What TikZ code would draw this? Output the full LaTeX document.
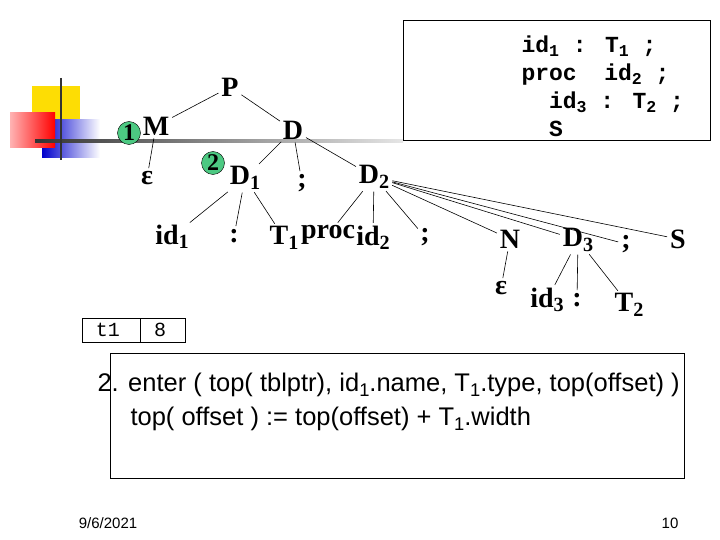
\documentclass[tikz,border=0pt]{standalone}
\usepackage{fontspec}
\setmainfont{Liberation Serif}
\newfontfamily\monof{Liberation Mono}
\newfontfamily\sansf{Liberation Sans}
\newcommand{\sbs}[1]{\raisebox{-0.35ex}{\scalebox{0.72}{#1}}}
\begin{document}
\begin{tikzpicture}[x=1pt,y=-1pt,
 tn/.style={font=\fontsize{28}{29}\selectfont\bfseries,inner sep=1pt},
 ed/.style={draw,line width=0.6pt,shorten <=2pt,shorten >=2pt},
 cnum/.style={circle,draw,fill=teal!60!green!70,inner sep=0.5pt,minimum size=23pt,font=\fontsize{24}{24}\selectfont\bfseries}]
\useasboundingbox (0,0) rectangle (720,540);
% decoration
\fill[yellow!80!orange] (32,86) rectangle (80,135);
\shade[left color=blue!80!black,right color=white] (42,120) rectangle (100,158);
\shade[left color=red!30,right color=red] (10,113) rectangle (55,148);
\shade[left color=black!80,right color=black!10] (35,140) rectangle (403,142.5);
\draw[line width=2pt,black!80] (61,78) -- (61,160);
% top box
\draw[line width=0.8pt] (403,20) rectangle (710,140);
\node[anchor=west,font=\monof\bfseries\fontsize{23}{28}\selectfont,align=left] (code) at (518,86)
 {id\sbs{1} : T\sbs{1} ;\\proc~ id\sbs{2} ;\\\ \ id\sbs{3} : T\sbs{2} ;\\\ \ S};
% tree
\node[tn] (P) at (230,87) {P};
\node[tn] (M) at (156,126) {M};
\node[cnum] (c1) at (129,133) {1};
\node[tn] (D) at (293,130) {D};
\node[tn] (e1) at (147,178) {ε};
\node[cnum] (c2) at (213,163) {2};
\node[tn] (D1) at (245,178) {D\sbs{1}};
\node[tn] (s1) at (302,183) {;};
\node[tn] (D2) at (374,177) {D\sbs{2}};
\node[tn] (id1) at (172,237) {id\sbs{1}};
\node[tn] (co1) at (234,236) {:};
\node[tn] (T1) at (284,238) {T\sbs{1}};
\node[tn] (proc) at (328,235) {proc};
\node[tn] (id2) at (373,238) {id\sbs{2}};
\node[tn] (s2) at (425,237) {;};
\node[tn] (N) at (510,239) {N};
\node[tn] (D3) at (578,240) {D\sbs{3}};
\node[tn] (s3) at (626,244) {;};
\node[tn] (S) at (678,239) {S};
\node[tn] (e2) at (501,288) {ε};
\node[tn] (id3) at (547,300) {id\sbs{3}};
\node[tn] (co2) at (577,300) {:};
\node[tn] (T2) at (629,305) {T\sbs{2}};
\foreach \a/\b in {P/M,P/D,M/e1,D/D1,D/s1,D/D2,D1/id1,D1/co1,D1/T1,D2/proc,D2/id2,D2/s2,D2/N,D2/D3,D2/s3,D2/S,N/e2,D3/id3,D3/co2,D3/T2}
  \draw[ed] (\a) -- (\b);
% table
\draw[line width=0.8pt] (82,318) rectangle (185,342) (140,318) -- (140,342);
\node[font=\monof\fontsize{20}{20}\selectfont] (t1) at (108,330) {t1};
\node[font=\monof\fontsize{20}{20}\selectfont] (v8) at (160,330) {8};
% bottom box
\draw[line width=0.8pt] (110,353) rectangle (684,478);
\node[anchor=west,font=\sansf\fontsize{25.5}{34}\selectfont,align=left] (txt) at (94,402)
 {2. enter ( top( tblptr), id\sbs{1}.name, T\sbs{1}.type, top(offset) )\\\hspace*{33pt}top( offset ) := top(offset) + T\sbs{1}.width};
\node[font=\sansf\fontsize{15}{15}\selectfont] (date) at (108,523) {9/6/2021};
\node[font=\sansf\fontsize{15}{15}\selectfont] (pg) at (670,523) {10};
\end{tikzpicture}
\end{document}
